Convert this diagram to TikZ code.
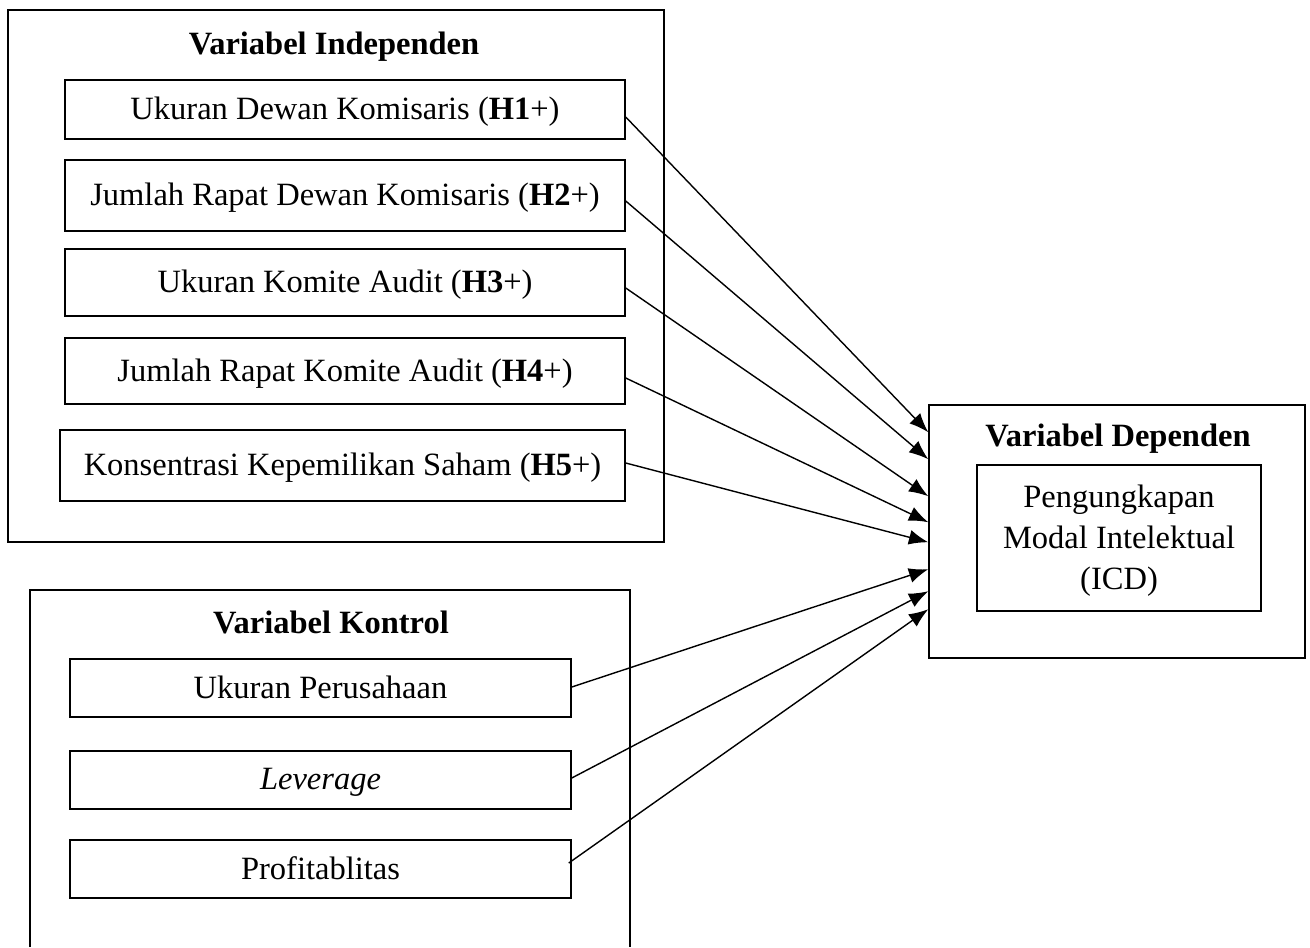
\documentclass[tikz,border=0pt]{standalone}
\usepackage{fontspec}
\setmainfont{Liberation Serif}
\usetikzlibrary{
		calc,
		arrows.meta,
		positioning
	}
\tikzset{
		>={Latex[length=11pt,width=8.5pt]}
	}

\begin{document}
\begin{tikzpicture}[x=0.02cm,y=-0.02cm,
    font=\fontsize{18.5}{23.5}\selectfont,
    box/.style={draw,line width=0.9pt,inner sep=0pt,align=center,text depth=1pt},
    frame/.style={draw,line width=0.9pt},
    judul/.style={font=\fontsize{18.5}{23}\selectfont\bfseries}]
    \useasboundingbox (0,0) rectangle (1310,947);

    % the big frames
    \draw[frame] (8,10) rectangle (664,542);
    \draw[frame] (30,947) -- (30,590) -- (630,590) -- (630,947);
    \node[frame,inner sep=0pt,minimum width=7.52cm,minimum height=5.06cm] (dep) at (1117,531.5) {};

    % the titles
    \node[judul] (tind) at (334,47) {Variabel Independen};
    \node[judul] (tkon) at (331,622) {Variabel Kontrol};
    \node[judul] (tdep) at (1118,439) {Variabel Dependen};

    % the variables (named so the arrows can start from them)
    \node[box,minimum width=11.2cm,minimum height=1.18cm] (h1) at (345,109.5) {Ukuran Dewan Komisaris (\textbf{H1}+)};
    \node[box,minimum width=11.2cm,minimum height=1.42cm] (h2) at (345,195.5) {Jumlah Rapat Dewan Komisaris (\textbf{H2}+)};
    \node[box,minimum width=11.2cm,minimum height=1.34cm] (h3) at (345,282.5) {Ukuran Komite Audit (\textbf{H3}+)};
    \node[box,minimum width=11.2cm,minimum height=1.32cm] (h4) at (345,371) {Jumlah Rapat Komite Audit (\textbf{H4}+)};
    \node[box,minimum width=11.3cm,minimum height=1.42cm] (h5) at (342.5,465.5) {Konsentrasi Kepemilikan Saham (\textbf{H5}+)};

    \node[box,minimum width=10.02cm,minimum height=1.16cm] (k1) at (320.5,688) {Ukuran Perusahaan};
    \node[box,minimum width=10.02cm,minimum height=1.16cm] (k2) at (320.5,780) {\textit{Leverage}};
    \node[box,minimum width=10.02cm,minimum height=1.16cm] (k3) at (320.5,869) {Profitablitas};

    \node[box,minimum width=5.68cm,minimum height=2.92cm] (icd) at (1119,538) {Pengungkapan\\Modal Intelektual\\(ICD)};

    % where the arrows hit the dependent frame
    \coordinate (t1) at ($(dep.north west)+(0,28)$);
    \coordinate (t2) at ($(dep.north west)+(0,55)$);
    \coordinate (t3) at ($(dep.north west)+(0,92)$);
    \coordinate (t4) at ($(dep.north west)+(0,118)$);
    \coordinate (t5) at ($(dep.north west)+(0,138)$);
    \coordinate (t6) at ($(dep.north west)+(0,165)$);
    \coordinate (t7) at ($(dep.north west)+(0,187)$);
    \coordinate (t8) at ($(dep.north west)+(0,205)$);

    %draw the arrows
    \draw[->,line width=0.8pt] ($(h1.east)+(0,7.5)$) -- (t1);

    \draw[->,line width=0.8pt] ($(h2.east)+(0,5.5)$) -- (t2);

    \draw[->,line width=0.8pt] ($(h3.east)+(0,5.5)$) -- (t3);

    \draw[->,line width=0.8pt] ($(h4.east)+(0,7)$) -- (t4);

    \draw[->,line width=0.8pt] ($(h5.east)+(0,-2.5)$) -- (t5);

    \draw[->,line width=0.8pt] ($(k1.east)+(0,-1)$) -- (t6);

    \draw[->,line width=0.8pt] ($(k2.east)+(0,-2)$) -- (t7);

    \draw[->,line width=0.8pt] ($(k3.east)+(-3,-6)$) -- (t8);

\end{tikzpicture}
\end{document}
